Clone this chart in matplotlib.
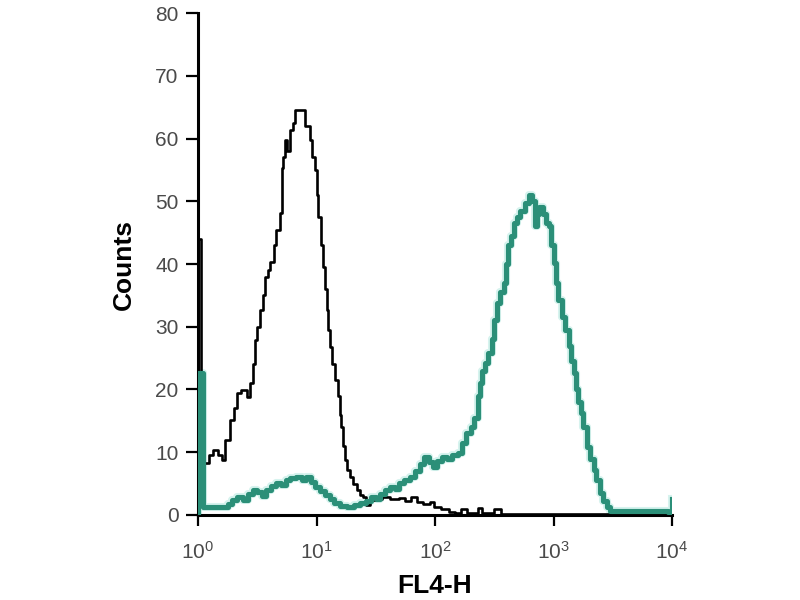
#!/usr/bin/env python
# flow cytometry histogram: isotype control (black) vs stained cells (teal), FL4-H channel
import numpy as np
import matplotlib
matplotlib.use("Agg")
import matplotlib.pyplot as plt

plt.rcParams['font.family'] = ['Liberation Sans Narrow', 'Liberation Sans', 'DejaVu Sans']
plt.rcParams['mathtext.default'] = 'regular'

# channel positions in decades (log10 of FL4-H) and counts
iso_decade = [0.0, 0.0, 0.025, 0.09, 0.127, 0.17, 0.2, 0.23, 0.27, 0.30, 0.33, 0.36, 0.41, 0.44,
              0.46, 0.48, 0.50, 0.52, 0.545, 0.565, 0.59, 0.61, 0.64, 0.66, 0.69, 0.706, 0.72,
              0.734, 0.75, 0.776, 0.80, 0.82, 0.905, 0.945, 0.965, 0.987, 1.0, 1.015, 1.035,
              1.058, 1.07, 1.086, 1.10, 1.114, 1.135, 1.156, 1.184, 1.20, 1.21, 1.225, 1.24,
              1.26, 1.28, 1.31, 1.34, 1.37, 1.395, 1.42, 1.45, 1.5, 1.55, 1.62, 1.70, 1.75,
              1.80, 1.85, 1.90, 1.96, 1.99, 2.05, 2.12, 2.17, 2.22, 2.27, 2.36, 2.40, 2.50,
              2.56, 2.6, 3.48]
iso_counts = [0, 44, 8.3, 9.5, 10.4, 9.6, 8.8, 12, 15.1, 17, 19.4, 19.9, 18.8, 21,
              24, 27.9, 30, 32.7, 35, 38, 39, 40.3, 43, 45.4, 48.1, 55.3, 57,
              59.8, 58, 61.4, 62.5, 64.5, 62, 59.8, 57, 55, 51, 47.5, 43,
              39.6, 36, 32.7, 29.5, 26.8, 24, 21.5, 18.9, 16, 14.1, 11, 8.8,
              7.2, 6.1, 5.0, 4.0, 3.2, 2.9, 1.6, 2.4, 2.6, 2.8, 2.6, 2.7, 2.2,
              2.9, 2.0, 1.7, 2.1, 1.2, 1.0, 0.4, 0.3, 1.0, 0.3, 1.1, 0.3, 1.0,
              0.2, 0.2, 0.2]

cells_decade = [0.0, 0.0, 0.04, 0.25, 0.29, 0.33, 0.38, 0.42, 0.46, 0.50, 0.54, 0.57, 0.62,
                0.66, 0.70, 0.74, 0.78, 0.83, 0.88, 0.91, 0.95, 0.99, 1.03, 1.07, 1.11, 1.15,
                1.20, 1.26, 1.32, 1.37, 1.42, 1.46, 1.50, 1.54, 1.58, 1.62, 1.66, 1.70, 1.74,
                1.79, 1.83, 1.87, 1.91, 1.95, 1.98, 2.02, 2.06, 2.10, 2.14, 2.19, 2.23, 2.26,
                2.30, 2.33, 2.36, 2.38, 2.40, 2.42, 2.45, 2.48, 2.50, 2.52, 2.55, 2.58, 2.60,
                2.62, 2.64, 2.67, 2.69, 2.72, 2.76, 2.79, 2.82, 2.84, 2.86, 2.88, 2.91, 2.94,
                2.96, 2.98, 3.00, 3.02, 3.04, 3.07, 3.10, 3.13, 3.15, 3.17, 3.19, 3.21, 3.23,
                3.25, 3.28, 3.31, 3.34, 3.36, 3.39, 3.42, 3.45, 3.48, 3.97, 4.0]
cells_counts = [0, 22.6, 1.2, 1.8, 2.4, 2.9, 2.4, 3.3, 4.0, 3.6, 3.0, 4.0, 4.6,
                5.1, 4.7, 5.6, 5.9, 6.1, 5.5, 6.0, 5.2, 4.5, 3.8, 3.2, 2.6, 1.9,
                1.5, 1.2, 1.6, 1.9, 2.3, 2.9, 2.5, 3.3, 4.0, 4.5, 4.2, 5.1, 5.6,
                6.1, 7.0, 8.2, 9.3, 8.5, 7.7, 8.6, 9.3, 9.0, 9.6, 9.9, 11.5, 13.1,
                14.1, 15.5, 19, 21, 23, 24.2, 25.8, 28, 31, 33.8, 35.5, 37, 40,
                43, 44.4, 46.5, 47.5, 48.5, 49.7, 51, 50, 46, 48, 49.1, 48, 46.5,
                46, 43, 40.1, 37, 34.3, 31.5, 29.5, 27, 24.5, 22.6, 20, 18, 16.2,
                14, 10.9, 9, 7.2, 5.5, 3.5, 2.2, 1.3, 0.6, 0.5, 2.6]

y_ticks = [0, 10, 20, 30, 40, 50, 60, 70, 80]
x_ticks = [1, 10, 100, 1000, 10000]
x_ticklabels = ['$10^0$', '$10^1$', '$10^2$', '$10^3$', '$10^4$']

teal = '#2b8f78'

fig = plt.figure(figsize=(8, 6), dpi=100)
ax = fig.add_axes([0.2475, 0.1417, 0.5925, 0.8366])

x_iso = 10 ** np.array(iso_decade)
x_cells = 10 ** np.array(cells_decade)

ax.plot(x_iso, iso_counts, drawstyle='steps-post', color='black', lw=1.9, zorder=3)
# light halo round the teal trace, like the jpeg fringe
ax.plot(x_cells, cells_counts, drawstyle='steps-post', color='#d6f3ee', lw=5.8, zorder=2)
ax.plot(x_cells, cells_counts, drawstyle='steps-post', color=teal, lw=3.7, zorder=4)

ax.set_xscale('log')
ax.set_xlim(1, 10000)
ax.set_ylim(0, 80)
ax.set_xticks(x_ticks)
ax.set_xticklabels(x_ticklabels)
ax.xaxis.set_minor_locator(matplotlib.ticker.NullLocator())
ax.set_yticks(y_ticks)

for side in ['top', 'right']:
    ax.spines[side].set_visible(False)
for side in ['left', 'bottom']:
    ax.spines[side].set_linewidth(2.2)
    ax.spines[side].set_clip_on(False)

ax.tick_params(axis='y', length=9, width=1.6, pad=5, labelsize=15, labelcolor='#4a4a4a')
ax.tick_params(axis='x', length=8, width=1.6, pad=11, labelsize=15, labelcolor='#4a4a4a')

ax.set_ylabel('Counts', fontsize=19, fontweight='bold', family=['Liberation Sans', 'DejaVu Sans'], labelpad=14)
ax.set_xlabel('FL4-H', fontsize=19, fontweight='bold', family=['Liberation Sans', 'DejaVu Sans'], labelpad=8)

fig.savefig('out.png', dpi=100)
